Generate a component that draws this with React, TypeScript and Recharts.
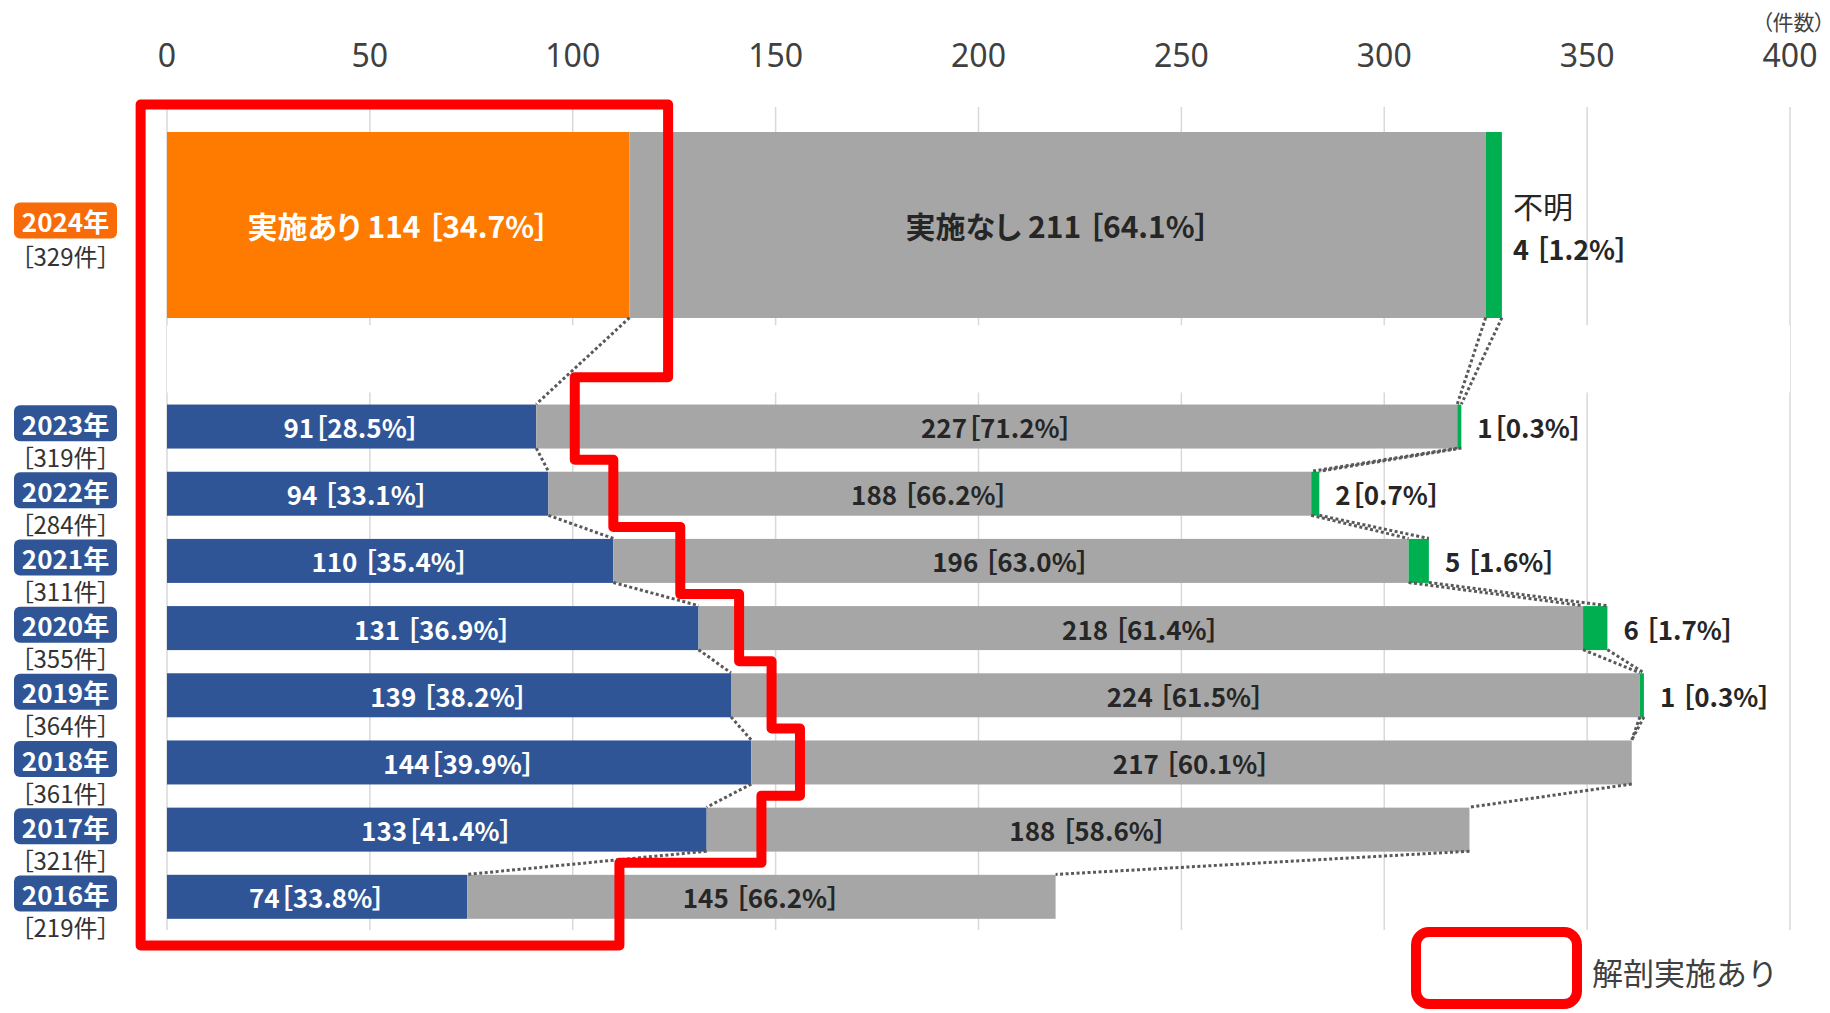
import { BarChart, Bar, XAxis, YAxis, CartesianGrid, ReferenceLine, ReferenceArea, LabelList } from 'recharts';

// rows top to bottom: 2024 is shown on its own, larger, above the rest
const years = ['2024', '2023', '2022', '2021', '2020', '2019', '2018', '2017', '2016'];
const totals = [329, 319, 284, 311, 355, 364, 361, 321, 219];
const autopsyYes = [114, 91, 94, 110, 131, 139, 144, 133, 74];
const autopsyNo = [211, 227, 188, 196, 218, 224, 217, 188, 145];
const unknown = [4, 1, 2, 5, 6, 1, 0, 0, 0];

const yesLabels = ['実施あり 114 ［34.7%］', '91［28.5%］', '94 ［33.1%］', '110 ［35.4%］', '131 ［36.9%］', '139 ［38.2%］', '144［39.9%］', '133［41.4%］', '74［33.8%］'];
const noLabels = ['実施なし 211 ［64.1%］', '227［71.2%］', '188 ［66.2%］', '196 ［63.0%］', '218 ［61.4%］', '224 ［61.5%］', '217 ［60.1%］', '188 ［58.6%］', '145 ［66.2%］'];
const unknownLabels = ['4 ［1.2%］', '1［0.3%］', '2［0.7%］', '5 ［1.6%］', '6 ［1.7%］', '1 ［0.3%］', '', '', ''];
const unknownName = '不明';

const xTicks = [0, 50, 100, 150, 200, 250, 300, 350, 400];

// red "解剖実施あり" outline, right edge per row (in 件)
const outlineSteps = [123.5, 100.5, 110, 126.5, 141, 149, 156, 146.5, 111.5];
const outlineLeft = -6.5;

const FONT = "'Noto Sans CJK JP', 'Noto Sans', sans-serif";
const PALT = { fontFeatureSettings: "'palt'" };
const BAR_SIZE = 44;
const TOP_BAR_SIZE = 186;
const OUTLINE_PAD = 27;

const ORANGE = '#FF7B00';
const BLUE = '#2F5597';
const GRAY = '#A6A6A6';
const GREEN = '#00B050';
const RED = '#FF0000';

const barThickness = (key: string) => (key === years[0] ? TOP_BAR_SIZE : BAR_SIZE);

const rows: any[] = [];
years.forEach((year, i) => {
  rows.push({
    key: year,
    yes: autopsyYes[i],
    no: autopsyNo[i],
    unk: unknown[i],
    yesLabel: yesLabels[i],
    noLabel: noLabels[i],
    unkLabel: unknownLabels[i],
  });
  // two empty slots between 2024 and the older years
  if (i === 0) rows.push({ key: 'gapA' }, { key: 'gapB' });
});
const rowKeys = rows.map(r => r.key);

// series lines between adjacent years (ends of each stacked segment)
const connectors: any[] = [];
for (let i = 0; i < years.length - 1; i++) {
  const a = [autopsyYes[i], autopsyYes[i] + autopsyNo[i], autopsyYes[i] + autopsyNo[i] + unknown[i]];
  const b = [autopsyYes[i + 1], autopsyYes[i + 1] + autopsyNo[i + 1], autopsyYes[i + 1] + autopsyNo[i + 1] + unknown[i + 1]];
  for (let k = 0; k < 3; k++) {
    if (k === 2 && a[2] === a[1] && b[2] === b[1]) continue;
    connectors.push({
      from: { x: a[k], y: years[i] },
      to: { x: b[k], y: years[i + 1] },
      halfA: barThickness(years[i]) / 2,
      halfB: barThickness(years[i + 1]) / 2,
    });
  }
}

const makeShape = (colorOf: (key: string) => string) => (props: any) => {
  const { x, y, width, height, payload } = props;
  if (!width || width <= 0) return <g />;
  const h = barThickness(payload.key);
  const cy = y + height / 2;
  return <rect x={x} y={cy - h / 2} width={width} height={h} fill={colorOf(payload.key)} />;
};

const yesShape = makeShape(key => (key === years[0] ? ORANGE : BLUE));
const noShape = makeShape(() => GRAY);
const unkShape = makeShape(() => GREEN);

const boxOf = (props: any) => props.viewBox ?? props;

const insideLabel = (fill: string) => (props: any) => {
  const { x, y, width, height } = boxOf(props);
  const { value } = props;
  if (!value) return null;
  const top = value === yesLabels[0] || value === noLabels[0];
  return (
    <text
      x={x + width / 2}
      y={y + height / 2}
      textAnchor="middle"
      dominantBaseline="central"
      fill={fill}
      fontFamily={FONT}
      fontWeight="bold"
      fontSize={top ? 30 : 26}
      style={PALT}
    >
      {value}
    </text>
  );
};

const unknownLabel = (props: any) => {
  const { x, y, width, height } = boxOf(props);
  const { value } = props;
  if (!value) return null;
  const cy = y + height / 2;
  if (value === unknownLabels[0]) {
    const lx = x + width + 11;
    return (
      <g fontFamily={FONT} fill="#262626" style={PALT}>
        <text x={lx} y={cy - 20} dominantBaseline="central" fontSize={30}>{unknownName}</text>
        <text x={lx} y={cy + 23} dominantBaseline="central" fontSize={27} fontWeight="bold">{value}</text>
      </g>
    );
  }
  return (
    <text x={x + width + 16} y={cy} dominantBaseline="central" fill="#262626" fontFamily={FONT} fontWeight="bold" fontSize={26} style={PALT}>
      {value}
    </text>
  );
};

const renderYearTick = (props: any) => {
  const { y, payload } = props;
  const i = years.indexOf(payload.value);
  if (i < 0) return <g />;
  const badge = i === 0 ? '#F96B08' : BLUE;
  const dy = i === 0 ? -4 : -3;
  return (
    <g fontFamily={FONT} style={PALT}>
      <rect x={14} y={y + dy - 18} width={103} height={36} rx={6} fill={badge} />
      <text x={65.5} y={y + dy} textAnchor="middle" dominantBaseline="central" fill="#fff" fontWeight="bold" fontSize={26}>
        {years[i]}年
      </text>
      <text x={65.5} y={y + (i === 0 ? 31 : 30)} textAnchor="middle" dominantBaseline="central" fill="#333" fontSize={24}>
        ［{totals[i]}件］
      </text>
    </g>
  );
};

// draws the staircase outline; the segment gives the x/y mapping of the chart
const outlineShape = (p: any) => {
  const ppu = (p.x2 - p.x1) / 400;
  const px = (v: number) => p.x1 + v * ppu;
  const band = (p.y2 - p.y1) / (rowKeys.length - 1);
  const cy = (key: string) => p.y1 + rowKeys.indexOf(key) * band;
  const last = years.length - 1;
  const top = cy(years[0]) - barThickness(years[0]) / 2 - OUTLINE_PAD;
  const bottom = cy(years[last]) + barThickness(years[last]) / 2 + OUTLINE_PAD;
  const pts: number[][] = [[px(outlineLeft), top], [px(outlineSteps[0]), top]];
  for (let i = 0; i < last; i++) {
    const endA = cy(years[i]) + barThickness(years[i]) / 2;
    const startB = cy(years[i + 1]) - barThickness(years[i + 1]) / 2;
    const t = startB - Math.min(OUTLINE_PAD, (startB - endA) / 2);
    pts.push([px(outlineSteps[i]), t], [px(outlineSteps[i + 1]), t]);
  }
  pts.push([px(outlineSteps[last]), bottom], [px(outlineLeft), bottom]);
  const d = pts.map((pt, i) => `${i ? 'L' : 'M'}${pt[0]},${pt[1]}`).join(' ') + ' Z';
  return <path d={d} fill="none" stroke={RED} strokeWidth={10} strokeLinejoin="round" />;
};

const App = () => {
  return (
    <div style={{ position: 'absolute', left: 0, top: 0, width: 1830, height: 1013, background: '#fff', fontFamily: FONT }}>
      <BarChart
        width={1830}
        height={1013}
        data={rows}
        layout="vertical"
        margin={{ top: 20, right: 40, bottom: 83, left: 0 }}
      >
        <CartesianGrid horizontal={false} stroke="#D9D9D9" strokeWidth={1.5} />
        <XAxis
          type="number"
          orientation="top"
          domain={[0, 400]}
          ticks={xTicks}
          axisLine={false}
          tickLine={false}
          height={87}
          tickMargin={34}
          tick={{ fontSize: 32, fill: '#404040', fontFamily: "'Noto Sans', sans-serif" }}
        />
        <YAxis
          type="category"
          dataKey="key"
          width={167}
          axisLine={false}
          tickLine={false}
          interval={0}
          padding={{ top: 84, bottom: 0 }}
          tick={renderYearTick}
        />
        <ReferenceArea y1="gapB" y2="gapB" fill="#fff" fillOpacity={1} stroke="none" ifOverflow="visible" />
        <Bar dataKey="yes" stackId="s" barSize={BAR_SIZE} shape={yesShape} isAnimationActive={false}>
          <LabelList dataKey="yesLabel" content={insideLabel('#fff')} />
        </Bar>
        <Bar dataKey="no" stackId="s" barSize={BAR_SIZE} shape={noShape} isAnimationActive={false}>
          <LabelList dataKey="noLabel" content={insideLabel('#262626')} />
        </Bar>
        <Bar dataKey="unk" stackId="s" barSize={BAR_SIZE} shape={unkShape} isAnimationActive={false}>
          <LabelList dataKey="unkLabel" content={unknownLabel} />
        </Bar>
        {connectors.map((c, j) => (
          <ReferenceLine
            key={`c-${j}`}
            segment={[c.from, c.to]}
            ifOverflow="visible"
            shape={(p: any) => (
              <line
                x1={p.x1}
                y1={p.y1 + c.halfA}
                x2={p.x2}
                y2={p.y2 - c.halfB}
                stroke="#595959"
                strokeWidth={3}
                strokeDasharray="3 2.5"
              />
            )}
          />
        ))}
        <ReferenceLine
          segment={[{ x: 0, y: years[0] }, { x: 400, y: years[years.length - 1] }]}
          ifOverflow="visible"
          shape={outlineShape}
        />
      </BarChart>
      <div
        style={{
          position: 'absolute',
          left: 1762,
          top: 6,
          fontSize: 21,
          color: '#404040',
          whiteSpace: 'nowrap',
          fontFeatureSettings: "'palt'",
        }}
      >
        （件数）
      </div>
      <div
        style={{
          position: 'absolute',
          left: 1411,
          top: 927,
          width: 171,
          height: 82,
          border: `10px solid ${RED}`,
          borderRadius: 18,
          boxSizing: 'border-box',
        }}
      />
      <div style={{ position: 'absolute', left: 1592, top: 950, fontSize: 31, lineHeight: '44px', color: '#404040', whiteSpace: 'nowrap' }}>
        解剖実施あり
      </div>
    </div>
  );
};

export default App;
